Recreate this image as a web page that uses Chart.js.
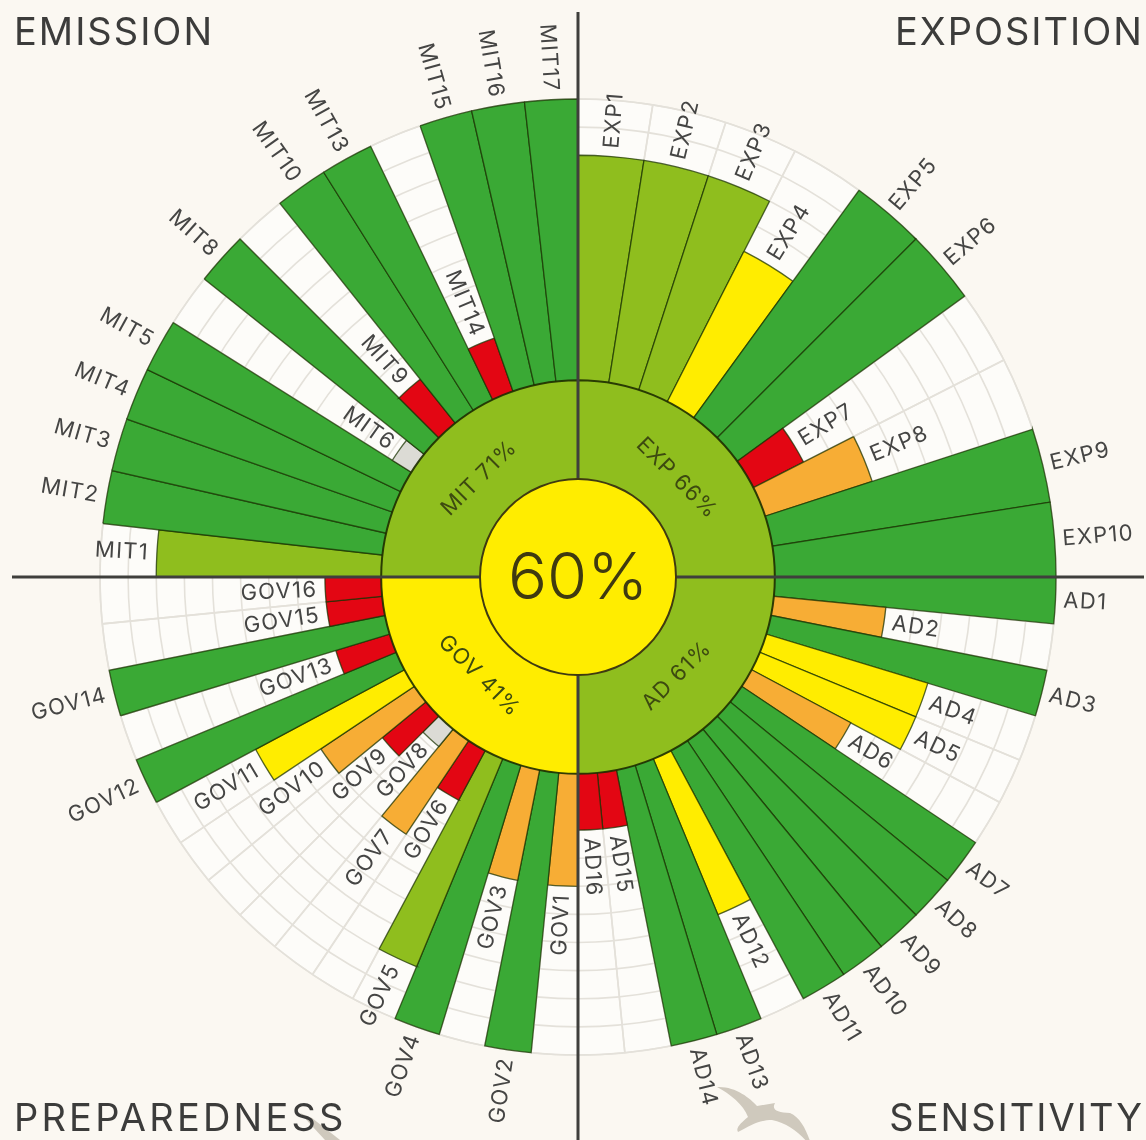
<!DOCTYPE html>
<html>
<head>
<meta charset="utf-8">
<script src="https://cdn.jsdelivr.net/npm/chart.js@4"></script>
<style>
  html, body { margin: 0; padding: 0; background: #fbf8f2; }
  #wrap { position: relative; width: 1146px; height: 1140px; overflow: hidden; }
  canvas { position: absolute; left: 0; top: 0; }
  svg { position: absolute; left: 0; top: 0; }
  .corner { position: absolute; font: 38px Inter, sans-serif; letter-spacing: 2px; color: #3c3c3b; line-height: 38px; white-space: nowrap; }
</style>
</head>
<body>
<div id="wrap">
  <svg width="1146" height="1140">
    <path fill="#cfc9bd" d="M717 1087 C735 1086 750 1098 757 1106 L775 1103 C771 1110 778 1113 790 1113 C802 1118 808 1134 813 1150 C803 1135 790 1124 772 1120 C758 1120 750 1126 738 1132 C735 1128 742 1122 748 1117 C743 1104 730 1094 717 1087 Z"/>
    <path fill="#cfc9bd" d="M300 1113 L312 1118 L340 1140 L325 1140 Z"/>
  </svg>
  <canvas id="radar_canvas" width="1146" height="1140"></canvas>
  <div class="corner" style="left:14px;top:12px">EMISSION</div>
  <div class="corner" style="right:2px;top:12px">EXPOSITION</div>
  <div class="corner" style="left:14px;top:1098px;letter-spacing:3.2px">PREPAREDNESS</div>
  <div class="corner" style="right:2px;top:1098px">SENSITIVITY</div>
</div>
<script>
const expCodes = ['EXP1','EXP2','EXP3','EXP4','EXP5','EXP6','EXP7','EXP8','EXP9','EXP10'];
const expScores = [80,80,80,60,100,100,20,40,100,100];

const adCodes = ['AD1','AD2','AD3','AD4','AD5','AD6','AD7','AD8','AD9','AD10','AD11','AD12','AD13','AD14','AD15','AD16'];
const adScores = [100,40,100,60,60,40,100,100,100,100,100,60,100,100,20,20];

const govCodes = ['GOV1','GOV2','GOV3','GOV4','GOV5','GOV6','GOV7','GOV8','GOV9','GOV10','GOV11','GOV12','GOV13','GOV14','GOV15','GOV16'];
const govScores = [40,100,40,100,80,20,40,8,20,40,60,100,20,100,20,20];

const mitCodes = ['MIT1','MIT2','MIT3','MIT4','MIT5','MIT6','MIT8','MIT9','MIT10','MIT13','MIT14','MIT15','MIT16','MIT17'];
const mitScores = [80,100,100,100,100,8,100,20,100,100,20,100,100,100];

const groupLabels = ['EXP 66%','AD 61%','GOV 41%','MIT 71%'];
const groupColors = ['#8fbe1e','#8fbe1e','#ffed00','#8fbe1e'];
const totalLabel = '60%';

// the scale runs from the middle of the circle (-70) to the rim (100), 0 sits on the ring edge
const scaleMin = -70;
const scaleMax = 100;
const ringValue = 0;
const centerEdge = -34.8;
const centerFill = -35.5;

const textColor = '#454544';
const labelFont = 'Inter, sans-serif';

function scoreColor(v) {
  if (v >= 100) return '#3aa935';
  if (v >= 80) return '#8fbe1e';
  if (v >= 60) return '#ffed00';
  if (v >= 40) return '#f7ad35';
  if (v >= 20) return '#e30613';
  return '#dcdbd5';
}

function sliceAngles(codes) {
  return codes.map(function () { return 90 / codes.length; });
}

const allCodes = expCodes.concat(adCodes, govCodes, mitCodes);
const allScores = expScores.concat(adScores, govScores, mitScores);
const allAngles = sliceAngles(expCodes).concat(sliceAngles(adCodes), sliceAngles(govCodes), sliceAngles(mitCodes));

const radialText = {
  id: 'radialText',
  beforeDatasetDraw(chart, args) {
    // cross goes under the center circle but over the bars
    if (args.index !== 1) return;
    const scale = chart.scales.r;
    const ctx = chart.ctx;
    ctx.save();
    ctx.strokeStyle = '#3f3f3c';
    ctx.lineWidth = 3;
    ctx.beginPath();
    ctx.moveTo(scale.xCenter, 12);
    ctx.lineTo(scale.xCenter, chart.height);
    ctx.moveTo(12, scale.yCenter);
    ctx.lineTo(chart.width - 2, scale.yCenter);
    ctx.stroke();
    ctx.restore();
  },
  afterDatasetsDraw(chart) {
    const ctx = chart.ctx;
    const bars = chart.getDatasetMeta(3).data;
    ctx.save();
    ctx.fillStyle = textColor;
    ctx.textBaseline = 'middle';
    ctx.font = '22px ' + labelFont;
    ctx.letterSpacing = '1.3px';
    bars.forEach(function (arc, i) {
      const mid = (arc.startAngle + arc.endAngle) / 2;
      const right = Math.cos(mid) >= 0;
      ctx.save();
      ctx.translate(arc.x, arc.y);
      ctx.rotate(right ? mid : mid + Math.PI);
      ctx.textAlign = right ? 'left' : 'right';
      ctx.fillText(allCodes[i], right ? arc.outerRadius + 8 : -arc.outerRadius - 8, 0);
      ctx.restore();
    });

    ctx.textAlign = 'center';
    ctx.fillStyle = '#3d4a10';
    ctx.font = '22px ' + labelFont;
    ctx.letterSpacing = '1px';
    chart.getDatasetMeta(2).data.forEach(function (arc, i) {
      const mid = (arc.startAngle + arc.endAngle) / 2;
      const r = arc.outerRadius * 0.71;
      ctx.save();
      ctx.translate(arc.x + Math.cos(mid) * r, arc.y + Math.sin(mid) * r);
      ctx.rotate(Math.sin(mid) < 0 ? mid + Math.PI / 2 : mid - Math.PI / 2);
      ctx.fillText(groupLabels[i], 0, 0);
      ctx.restore();
    });

    const scale = chart.scales.r;
    ctx.fillStyle = '#3f3a10';
    ctx.font = '300 65px ' + labelFont;
    ctx.letterSpacing = '0px';
    ctx.fillText(totalLabel, scale.xCenter, scale.yCenter + 2);
    ctx.restore();
  }
};

const radar_chart = new Chart(document.getElementById('radar_canvas'), {
  type: 'polarArea',
  data: {
    labels: allCodes,
    datasets: [
      { data: [centerFill], backgroundColor: '#ffed00', borderWidth: 0 },
      { data: [centerEdge], backgroundColor: '#3f3a10', borderWidth: 0 },
      {
        data: groupLabels.map(function () { return ringValue; }),
        angle: [90, 90, 90, 90],
        backgroundColor: groupColors,
        borderColor: 'rgba(30,45,0,0.9)',
        borderWidth: 2
      },
      {
        data: allScores,
        angle: allAngles,
        backgroundColor: allScores.map(scoreColor),
        borderColor: 'rgba(25,50,0,0.72)',
        borderWidth: 1.3,
        borderJoinStyle: 'miter'
      },
      {
        // spokes of the background grid
        data: allScores.map(function () { return scaleMax; }),
        angle: allAngles,
        backgroundColor: 'rgba(0,0,0,0)',
        borderColor: '#e4e1da',
        borderWidth: 1.6
      }
    ]
  },
  options: {
    responsive: false,
    animation: false,
    layout: { padding: { left: 100, right: 90, top: 99, bottom: 85 } },
    plugins: { legend: { display: false }, tooltip: { enabled: false } },
    scales: {
      r: {
        min: scaleMin,
        max: scaleMax,
        startAngle: 0,
        backgroundColor: '#fdfcf9',
        ticks: { display: false, stepSize: 10 },
        pointLabels: { display: false },
        angleLines: { display: false },
        grid: {
          circular: true,
          lineWidth: 1.6,
          color: function (ctx) { return ctx.tick.value > 0 ? '#e4e1da' : 'rgba(0,0,0,0)'; }
        }
      }
    }
  },
  plugins: [radialText]
});
</script>
</body>
</html>
